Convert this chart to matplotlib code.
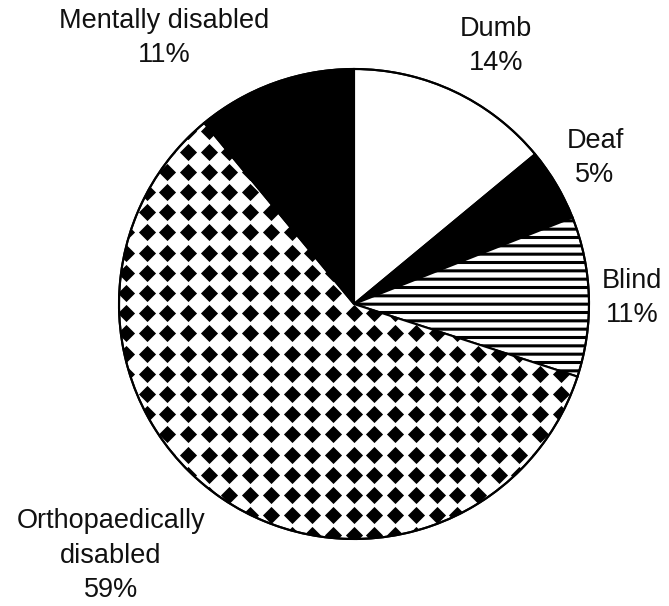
#!/usr/bin/env python3
"""Pie chart of disability types, black and white pattern fills."""

import numpy as np
import matplotlib
matplotlib.use('Agg')
import matplotlib.pyplot as plt

# Data, clockwise from 12 o'clock
labels = ['Dumb', 'Deaf', 'Blind', 'Orthopaedically\ndisabled', 'Mentally disabled']
shares = [14, 5, 11, 59, 11]
face_colors = ['white', 'black', 'white', 'white', 'black']
hatches = [None, None, '--', None, None]

# label anchor points (pixels from top-left, baseline of last line)
label_pos = [(496, 70), (595, 182), (632, 322), (111, 597), (164, 62)]

plt.rcParams['font.family'] = ['Liberation Sans', 'DejaVu Sans']
plt.rcParams['hatch.linewidth'] = 2.2
plt.rcParams['hatch.color'] = 'black'

W, H = 669, 606
fig = plt.figure(figsize=(W / 100, H / 100), dpi=100)
ax = fig.add_axes([0, 0, 1, 1])

cx, cy, r = 354, H - 304, 235
wedges, _ = ax.pie(shares, colors=face_colors, startangle=90, counterclock=False,
                   center=(cx, cy), radius=r,
                   wedgeprops=dict(edgecolor='black', linewidth=1.5))
for w, h in zip(wedges, hatches):
    if h:
        w.set_hatch(h)

# diamond dot texture for the orthopaedic wedge
gx = np.arange(146.7 - 20.7 * 8, W, 20.7)
gy = np.arange(171.7 - 20.2 * 9, H, 20.2)
xx, yy = np.meshgrid(gx, gy)
dots = ax.scatter(xx.ravel(), H - yy.ravel(), marker='D', s=76, c='black',
                  linewidths=0, zorder=2)
dots.set_clip_path(wedges[3])

# edge outline on top
circle = plt.Circle((cx, cy), r, fill=False, edgecolor='black', linewidth=1.5, zorder=3)
ax.add_patch(circle)

for lab, pct, (x, y) in zip(labels, shares, label_pos):
    ax.text(x, H - y, f'{lab}\n{pct}%', ha='center', va='baseline',
            fontsize=19.5, linespacing=1.42, color='#111111')

ax.set_xlim(0, W)
ax.set_ylim(0, H)
ax.set_aspect('equal')
ax.axis('off')

fig.savefig('out.png', dpi=100, facecolor='white')
